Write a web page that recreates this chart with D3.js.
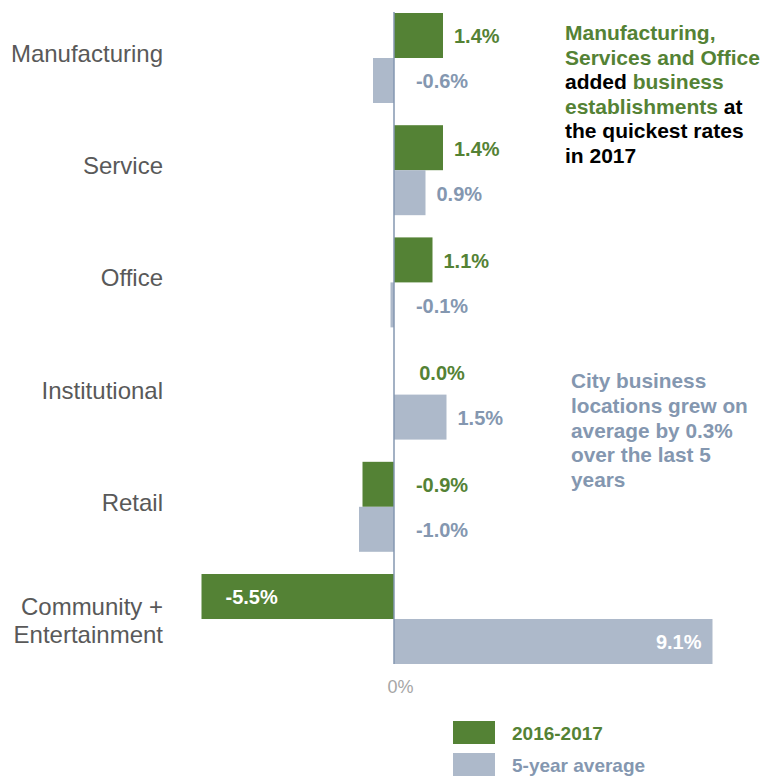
<!DOCTYPE html>
<html>
<head>
<meta charset="utf-8">
<script src="https://cdn.jsdelivr.net/npm/d3@7"></script>
<style>
  html, body { margin: 0; padding: 0; background: #fff; }
  svg { display: block; font-family: "Liberation Sans", Arial, Helvetica, sans-serif; }
</style>
</head>
<body>
<svg id="chart" width="762" height="779"></svg>
<script>
// Business establishment growth by land-use category
const categories = ["Manufacturing", "Service", "Office", "Institutional", "Retail", "Community +\nEntertainment"];
const seriesNames = ["2016-2017", "5-year average"];
const growth2017 = [1.4, 1.4, 1.1, 0.0, -0.9, -5.5];
const growth5yr = [-0.6, 0.9, -0.1, 1.5, -1.0, 9.1];
const axisTicks = [0];

const noteTop = [
  [["Manufacturing,", "g"]],
  [["Services and Office", "g"]],
  [["added ", "k"], ["business", "g"]],
  [["establishments", "g"], [" at", "k"]],
  [["the quickest rates", "k"]],
  [["in 2017", "k"]]
];
const noteBottom = ["City business", "locations grew on", "average by 0.3%", "over the last 5", "years"];

const GREEN = "#548235", GREY = "#ADB9CA", GREY_TEXT = "#8497B0";
const colors = [GREEN, GREY];
const labelColors = [GREEN, GREY_TEXT];

const svg = d3.select("#chart");

const x = d3.scaleLinear().domain([-5.5, 9.1]).range([201.5, 712.5]);
const y = d3.scaleBand().domain(categories).range([13, 664]).paddingInner(0.198).paddingOuter(0);
const ySub = d3.scaleBand().domain(seriesNames).range([0, y.bandwidth()]);

const rows = categories.map((c, i) => ({ cat: c, values: [growth2017[i], growth5yr[i]] }));

const groups = svg.append("g").selectAll("g")
  .data(rows).join("g")
  .attr("transform", d => `translate(0,${y(d.cat)})`);

// bars
groups.selectAll("rect")
  .data(d => d.values.map((v, k) => ({ v, k })))
  .join("rect")
  .attr("x", d => x(Math.min(0, d.v)))
  .attr("width", d => Math.abs(x(d.v) - x(0)))
  .attr("y", d => ySub(seriesNames[d.k]))
  .attr("height", ySub.bandwidth())
  .attr("fill", d => colors[d.k]);

// value labels
groups.selectAll("text.val")
  .data(d => d.values.map((v, k) => ({ v, k })))
  .join("text")
  .attr("class", "val")
  .attr("font-size", 20)
  .attr("font-weight", "bold")
  .attr("y", d => ySub(seriesNames[d.k]) + ySub.bandwidth() / 2 + 1)
  .attr("dy", "0.35em")
  .each(function (d) {
    const t = d3.select(this);
    const inside = Math.abs(d.v) >= 5;
    if (inside) {
      t.attr("fill", "#fff")
        .attr("text-anchor", d.v < 0 ? "start" : "end")
        .attr("x", d.v < 0 ? x(d.v) + 24 : x(d.v) - 11);
    } else if (d.v > 0) {
      t.attr("fill", labelColors[d.k]).attr("text-anchor", "start").attr("x", x(d.v) + 11);
    } else {
      t.attr("fill", labelColors[d.k]).attr("text-anchor", "middle").attr("x", x(0) + 48);
    }
  })
  .text(d => d.v.toFixed(1) + "%");

// category labels
groups.append("text")
  .attr("text-anchor", "end")
  .attr("fill", "#595959")
  .attr("font-size", 24)
  .each(function (d) {
    const lines = d.cat.split("\n");
    const cy = y.bandwidth() / 2;
    const first = cy + 4 - (lines.length - 1) * 8;
    d3.select(this).selectAll("tspan")
      .data(lines).join("tspan")
      .attr("x", 163)
      .attr("y", (l, i) => first + i * 28)
      .text(l => l);
  });

// zero line
svg.append("line")
  .attr("x1", x(0)).attr("x2", x(0))
  .attr("y1", 12).attr("y2", 664)
  .attr("stroke", GREY_TEXT).attr("stroke-width", 1.5);

// axis with the 0% tick
const axis = d3.axisBottom(x).tickValues(axisTicks).tickSize(0).tickPadding(0)
  .tickFormat(d => d + "%");
const ax = svg.append("g").attr("transform", "translate(6,680)").call(axis);
ax.select(".domain").remove();
ax.selectAll("text")
  .attr("fill", "#A6A6A6")
  .attr("font-size", 18)
  .attr("font-family", "'Liberation Sans', Arial, sans-serif");

// legend
const legend = svg.append("g").attr("transform", "translate(453,721)");
seriesNames.forEach((name, k) => {
  const g = legend.append("g").attr("transform", `translate(0,${k * 32})`);
  g.append("rect").attr("width", 42).attr("height", 23).attr("fill", colors[k]);
  g.append("text")
    .attr("x", 59).attr("y", 18.5)
    .attr("font-size", 19).attr("font-weight", "bold")
    .attr("fill", labelColors[k])
    .text(name);
});

// annotations
const noteA = svg.append("text")
  .attr("font-size", 21).attr("font-weight", "bold");
noteTop.forEach((parts, i) => {
  parts.forEach((p, j) => {
    const ts = noteA.append("tspan")
      .attr("fill", p[1] === "g" ? GREEN : "#000")
      .attr("xml:space", "preserve")
      .style("white-space", "pre")
      .text(p[0]);
    if (j === 0) ts.attr("x", 565).attr("y", 40 + i * 24.5);
  });
});

const noteB = svg.append("text")
  .attr("font-size", 20.8).attr("font-weight", "bold").attr("fill", GREY_TEXT);
noteB.selectAll("tspan").data(noteBottom).join("tspan")
  .attr("x", 571).attr("y", (d, i) => 388 + i * 24.75)
  .text(d => d);
</script>
</body>
</html>
